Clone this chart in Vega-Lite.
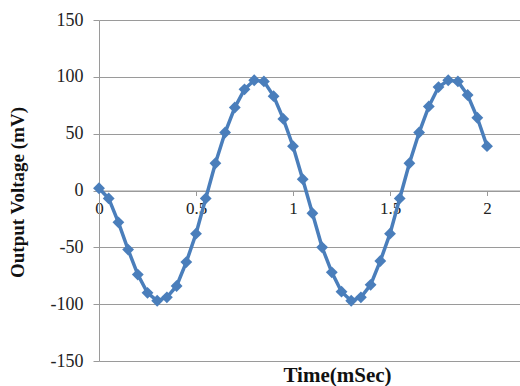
{
  "$schema": "https://vega.github.io/schema/vega-lite/v6.json",
  "width": 421,
  "height": 341,
  "autosize": {"type": "none"},
  "padding": {"left": 99, "top": 20, "right": 0, "bottom": 25},
  "background": "white",
  "config": {"view": {"stroke": null}},
  "data": {"values": [
    {"t": 0, "v": 2}, {"t": 0.05, "v": -7}, {"t": 0.1, "v": -28}, {"t": 0.15, "v": -52},
    {"t": 0.2, "v": -74}, {"t": 0.25, "v": -90}, {"t": 0.3, "v": -97}, {"t": 0.35, "v": -94},
    {"t": 0.4, "v": -84}, {"t": 0.45, "v": -63}, {"t": 0.5, "v": -38}, {"t": 0.55, "v": -7},
    {"t": 0.6, "v": 24}, {"t": 0.65, "v": 51}, {"t": 0.7, "v": 73}, {"t": 0.75, "v": 89},
    {"t": 0.8, "v": 97}, {"t": 0.85, "v": 96}, {"t": 0.9, "v": 83}, {"t": 0.95, "v": 63},
    {"t": 1.0, "v": 39}, {"t": 1.05, "v": 10}, {"t": 1.1, "v": -20}, {"t": 1.15, "v": -50},
    {"t": 1.2, "v": -72}, {"t": 1.25, "v": -89}, {"t": 1.3, "v": -97}, {"t": 1.35, "v": -94},
    {"t": 1.4, "v": -83}, {"t": 1.45, "v": -62}, {"t": 1.5, "v": -38}, {"t": 1.55, "v": -7},
    {"t": 1.6, "v": 24}, {"t": 1.65, "v": 51}, {"t": 1.7, "v": 74}, {"t": 1.75, "v": 91},
    {"t": 1.8, "v": 97}, {"t": 1.85, "v": 96}, {"t": 1.9, "v": 84}, {"t": 1.95, "v": 64},
    {"t": 2.0, "v": 39}
  ]},
  "encoding": {
    "x": {
      "field": "t", "type": "quantitative",
      "scale": {"domain": [0, 2.17], "nice": false, "zero": false},
      "axis": {
        "title": "Time(mSec)", "values": [0, 0.5, 1, 1.5, 2],
        "labelExpr": "'' + datum.value",
        "offset": -170.5, "grid": false,
        "domainColor": "#9a9a9a", "tickColor": "#9a9a9a", "tickSize": 5,
        "labelFont": "Liberation Serif, Times New Roman, DejaVu Serif, serif", "labelFontSize": 17, "labelColor": "#222",
        "labelPadding": 5, "labelFlush": false,
        "titleFont": "Liberation Serif, Times New Roman, DejaVu Serif, serif", "titleFontSize": 21, "titleFontWeight": "bold", "titleColor": "#111",
        "titleX": 238, "titleY": 191, "titleBaseline": "alphabetic"
      }
    },
    "y": {
      "field": "v", "type": "quantitative",
      "scale": {"domain": [-150, 150], "nice": false},
      "axis": {
        "title": "Output Voltage (mV)", "values": [-150, -100, -50, 0, 50, 100, 150],
        "labelExpr": "'' + datum.value",
        "grid": true, "gridColor": "#9a9a9a", "gridWidth": 1.2,
        "domainColor": "#9a9a9a", "tickColor": "#9a9a9a", "tickSize": 6,
        "labelFont": "Liberation Serif, Times New Roman, DejaVu Serif, serif", "labelFontSize": 18, "labelColor": "#222",
        "labelPadding": 10,
        "titleFont": "Liberation Serif, Times New Roman, DejaVu Serif, serif", "titleFontSize": 19, "titleFontWeight": "bold", "titleColor": "#111",
        "titleX": -72, "titleY": 172
      }
    }
  },
  "layer": [
    {"mark": {"type": "line", "color": "#4a7ebb", "strokeWidth": 3.5}},
    {"mark": {"type": "point", "shape": "diamond", "filled": true, "color": "#4a7ebb", "opacity": 1, "size": 140}}
  ]
}
